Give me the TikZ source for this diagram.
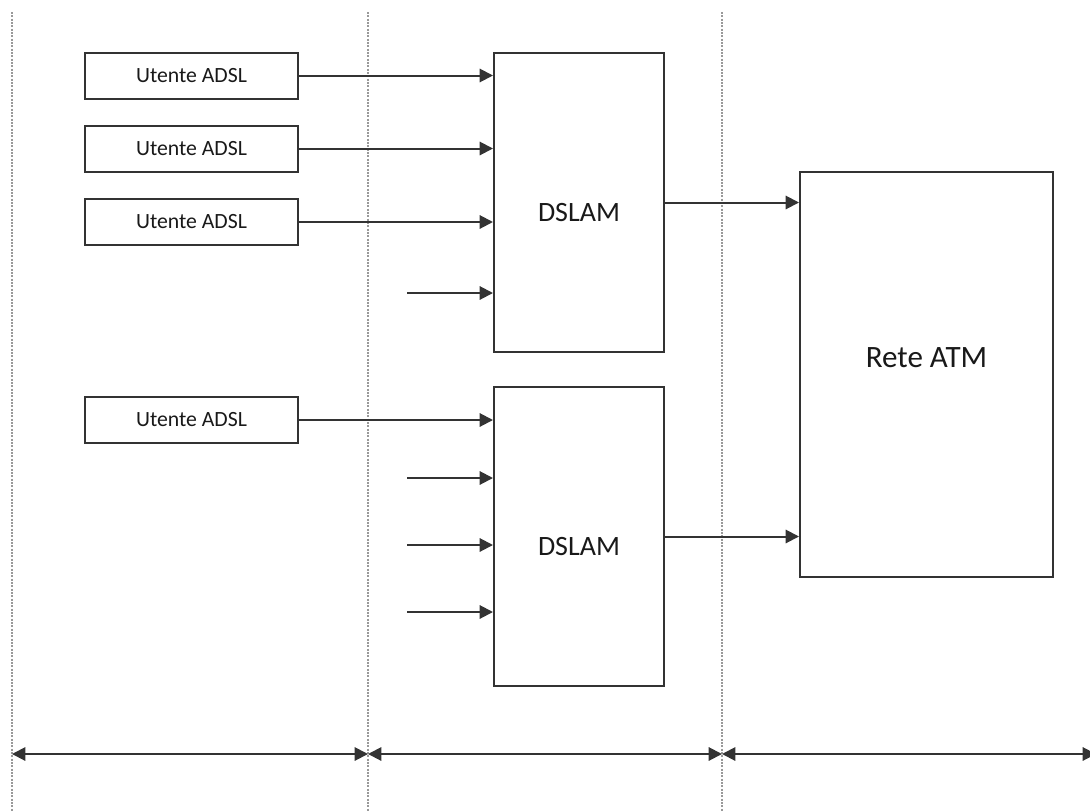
\documentclass[tikz,border=0pt]{standalone}
\usepackage{fontspec}
\setmainfont{Carlito}
\usetikzlibrary{arrows.meta}

\begin{document}
\begin{tikzpicture}[
  x=0.75pt, y=-0.75pt,
  every node/.style={inner sep=0pt, text=black!90},
  utente/.style={rectangle, draw=black!80, line width=1.5pt,
    minimum width=159.75pt, minimum height=34.5pt, font=\fontsize{16.3}{19}\selectfont},
  dslam/.style={rectangle, draw=black!80, line width=1.5pt,
    minimum width=127.5pt, minimum height=224.25pt},
  rete/.style={rectangle, draw=black!80, line width=1.5pt,
    minimum width=189.75pt, minimum height=303.75pt},
  link/.style={draw=black!80, line width=1.5pt, -{Triangle[length=10pt, width=10pt]}},
  span/.style={draw=black!80, line width=1.5pt,
    {Triangle[length=10pt, width=10pt]}-{Triangle[length=10pt, width=10pt]}},
  divider/.style={draw=black!40, line width=1.5pt, densely dotted},
]
\useasboundingbox (0,0) rectangle (1090,811);

%% ---- section dividers ----
\foreach \xpos/\name in {12/l, 368/m, 722/r} {
  \coordinate (top\name) at (\xpos,12);
  \coordinate (bot\name) at (\xpos,811);
  \draw[divider] (top\name) -- (bot\name);
}

%% ---- users ----
\node[utente] (u1) at (191.5,75.5) {Utente ADSL};
\node[utente] (u2) at (191.5,148.5) {Utente ADSL};
\node[utente] (u3) at (191.5,222) {Utente ADSL};
\node[utente] (u4) at (191.5,420) {Utente ADSL};

%% ---- access multiplexers ----
\node[dslam, label={[yshift=-7.5pt, font=\fontsize{21}{25}\selectfont]center:DSLAM}]
  (d1) at (579,202.5) {};
\node[dslam, label={[yshift=-7.5pt, font=\fontsize{21}{25}\selectfont]center:DSLAM}]
  (d2) at (579,536.5) {};

%% ---- core network ----
\node[rete, label={[yshift=13pt, font=\fontsize{23.3}{28}\selectfont]center:Rete ATM}]
  (atm) at (926.5,374.5) {};

%% ---- links ----
\foreach \u/\d in {u1/d1, u2/d1, u3/d1, u4/d2}
  \draw[link] (\u.east) -- (\u.east -| \d.west);

\coordinate (f1) at (407,293);
\coordinate (f2) at (407,478);
\coordinate (f3) at (407,545);
\coordinate (f4) at (407,612);
\draw[link] (f1) -- (f1 -| d1.west);
\foreach \f in {f2, f3, f4}
  \draw[link] (\f) -- (\f -| d2.west);

\draw[link] (d1.east) -- (d1.east -| atm.west);
\draw[link] (d2.east) -- (d2.east -| atm.west);

%% ---- section spans ----
\coordinate (s1) at (12,754);
\coordinate (s2) at (368,754);
\coordinate (s3) at (722,754);
\coordinate (s4) at (1096,754);
\draw[span] (s1) -- (s2);
\draw[span] (s2) -- (s3);
\draw[span] (s3) -- (s4);
\end{tikzpicture}
\end{document}
